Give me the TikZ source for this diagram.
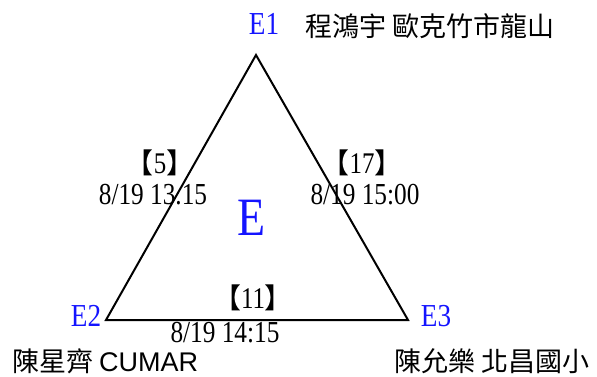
\documentclass[tikz,border=0pt]{standalone}
\usepackage{fontspec}
\newfontfamily\ser[FakeStretch=0.83]{Liberation Serif}
\newfontfamily\serb[FakeStretch=0.85]{Liberation Serif}
\newfontfamily\cjk{Noto Sans CJK TC}
\newfontfamily\lsans{Liberation Sans}
\definecolor{eblue}{RGB}{20,20,255}
\newcommand{\lbr}{{\cjk\fontsize{28}{28}\selectfont 【}}
\newcommand{\rbr}{{\cjk\fontsize{28}{28}\selectfont 】}}
\begin{document}
\begin{tikzpicture}[x=1pt,y=-1pt,
  lbl/.style={inner sep=0pt,font=\fontsize{32}{32}\serb,text=eblue},
  tstamp/.style={inner sep=0pt,font=\fontsize{30.5}{30}\ser},
  cnt/.style={inner sep=0pt,font=\fontsize{30}{30}\ser},
  nametxt/.style={inner sep=0pt,font=\fontsize{27}{27}\cjk}]
\useasboundingbox (0,0) rectangle (597,376);
\coordinate (v1) at (256,55);
\coordinate (v2) at (106,320);
\coordinate (v3) at (408,320);
\draw[line width=2pt,line join=miter] (v1) -- (v2) -- (v3) -- cycle;
\node[lbl] (e1) at (264,24) {E1};
\node[lbl] (e2) at (86,316) {E2};
\node[lbl] (e3) at (436,316) {E3};
\node[lbl,font=\fontsize{54}{54}\serb] (e) at (252,218) {E};
\node[nametxt,anchor=west] (n1) at (305,26) {程鴻宇 歐克竹市龍山};
\node[nametxt,anchor=west] (n2) at (12,361) {陳星齊 {\lsans CUMAR}};
\node[nametxt,anchor=east] (n3) at (590,361) {陳允樂 北昌國小};
\node[cnt] (c5) at (160,163) {\lbr 5\rbr};
\node[tstamp] (t5) at (153,195) {8/19 13.15};
\node[cnt] (c17) at (362,163) {\lbr 17\rbr};
\node[tstamp] (t17) at (365,195) {8/19 15:00};
\node[cnt] (c11) at (253,298) {\lbr 11\rbr};
\node[tstamp] (t11) at (225,333) {8/19 14:15};
\end{tikzpicture}
\end{document}
